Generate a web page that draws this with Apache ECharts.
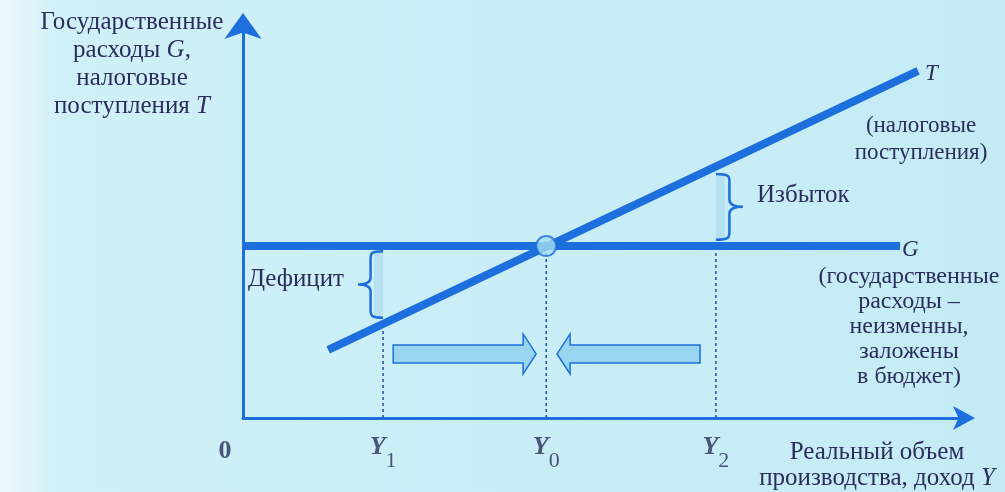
<!DOCTYPE html>
<html>
<head>
<meta charset="utf-8">
<script src="https://cdn.jsdelivr.net/npm/echarts@6/dist/echarts.min.js"></script>
<style>
html, body { margin: 0; padding: 0; }
#main { width: 1005px; height: 492px; }
</style>
</head>
<body>
<div id="main"></div>
<script>
// both axes run 0..100 (schematic units)
const gLine = [[0, 43.2], [91.0, 43.2]];          // government spending G
const tLine = [[11.8, 17.1], [93.5, 87.2]];        // tax revenue T
const incomeLevels = [0, 19.4, 42.0, 65.5];        // 0, Y1, Y0, Y2
const incomeNames = ['0', 'Y|1', 'Y|0', 'Y|2'];
const equilibrium = [[42.0, 43.2]];
const pushArrows = [[20.8, 40.6, 16.1], [63.3, 43.5, 16.1]];   // from, to, level
const deficitGap = [[19.4, 25.2, 41.9]];   // x, low, high
const surplusGap = [[65.5, 44.8, 61.3]];

const blue = '#1c6fdc';
const ink = '#2b2d5c';
const serif = '"Liberation Serif", "DejaVu Serif", serif';

function tAt(x) {
  const [a, b] = tLine;
  return a[1] + (b[1] - a[1]) * (x - a[0]) / (b[0] - a[0]);
}

// dashed drops from the curves down to the income axis
const drops = [
  [[incomeLevels[1], 0], [incomeLevels[1], tAt(incomeLevels[1])]],
  [[incomeLevels[2], 0], [incomeLevels[2], gLine[0][1]]],
  [[incomeLevels[3], 0], [incomeLevels[3], gLine[0][1]]]
];

const myChart = echarts.init(document.getElementById('main'));

function bracePath(bx, y1, y2, d, w) {
  const ym = (y1 + y2) / 2;
  const h = w * 0.5;
  return 'M' + bx + ',' + y1 +
    ' C' + (bx + d * h * 1.1) + ',' + y1 + ' ' + (bx + d * h) + ',' + (y1 + 3) + ' ' + (bx + d * h) + ',' + (y1 + 10) +
    ' L' + (bx + d * h) + ',' + (ym - 7) +
    ' Q' + (bx + d * h) + ',' + ym + ' ' + (bx + d * w) + ',' + ym +
    ' Q' + (bx + d * h) + ',' + ym + ' ' + (bx + d * h) + ',' + (ym + 7) +
    ' L' + (bx + d * h) + ',' + (y2 - 10) +
    ' C' + (bx + d * h) + ',' + (y2 - 3) + ' ' + (bx + d * h * 1.1) + ',' + y2 + ' ' + bx + ',' + y2;
}

function gapItem(params, api, dir) {
  const x = api.value(0);
  const top = api.coord([x, api.value(2)]);
  const bot = api.coord([x, api.value(1)]);
  const bw = 9;
  return {
    type: 'group',
    children: [
      {
        type: 'rect',
        shape: { x: dir < 0 ? top[0] - bw : top[0], y: top[1], width: bw, height: bot[1] - top[1] },
        style: { fill: '#b6e1f1' }
      },
      {
        type: 'path',
        shape: { pathData: bracePath(top[0], top[1], bot[1], dir, dir < 0 ? 25 : 27) },
        style: { fill: 'none', stroke: blue, lineWidth: 2.5 }
      }
    ]
  };
}

const labelItems = incomeLevels.map(function (x, i) {
  const parts = incomeNames[i].split('|');
  return {
    value: [x, 0],
    label: {
      show: true,
      position: 'bottom',
      distance: 16,
      offset: i === 0 ? [-18, 0] : [0, 0],
      formatter: parts.length > 1 ? '{m|' + parts[0] + '}{s|' + parts[1] + '}' : '{z|' + parts[0] + '}',
      rich: {
        z: { fontFamily: serif, fontSize: 26, fontWeight: 'bold', color: ink, lineHeight: 34 },
        m: { fontFamily: serif, fontSize: 26, fontStyle: 'italic', fontWeight: 'bold', color: ink, verticalAlign: 'top', lineHeight: 38 },
        s: { fontFamily: serif, fontSize: 22, color: ink, verticalAlign: 'bottom', lineHeight: 38 }
      }
    }
  };
});

const option = {
  animation: false,
  backgroundColor: new echarts.graphic.LinearGradient(0, 0, 1, 0, [
    { offset: 0, color: '#ecf9fc' },
    { offset: 0.06, color: '#d0f0f7' },
    { offset: 1, color: '#c4ebf4' }
  ]),
  grid: { left: 243, right: 40, top: 20, bottom: 74 },
  xAxis: {
    type: 'value', min: 0, max: 100,
    axisLine: {
      show: true, symbol: ['none', 'arrow'], symbolSize: [18, 22], symbolOffset: [0, 10],
      lineStyle: { color: blue, width: 3 }
    },
    axisTick: { show: false }, axisLabel: { show: false }, splitLine: { show: false }
  },
  yAxis: {
    type: 'value', min: 0, max: 100,
    axisLine: {
      show: true, symbol: ['none', 'arrow'], symbolSize: [28, 26], symbolOffset: [0, 7],
      lineStyle: { color: blue, width: 3 }
    },
    axisTick: { show: false }, axisLabel: { show: false }, splitLine: { show: false }
  },
  series: [
    {
      type: 'custom', name: 'arrows', z: 3,
      renderItem: function (params, api) {
        const s = api.coord([api.value(0), api.value(2)]);
        const e = api.coord([api.value(1), api.value(2)]);
        const d = e[0] > s[0] ? 1 : -1;
        const bh = 9, hh = 20, hl = 13, y = s[1];
        return {
          type: 'polygon',
          shape: { points: [
            [s[0], y - bh], [e[0] - d * hl, y - bh], [e[0] - d * hl, y - hh], [e[0], y],
            [e[0] - d * hl, y + hh], [e[0] - d * hl, y + bh], [s[0], y + bh]
          ] },
          style: { fill: '#97d6ee', stroke: blue, lineWidth: 1.5 }
        };
      },
      data: pushArrows
    },
    {
      type: 'custom', name: 'deficit', z: 3,
      renderItem: function (p, api) { return gapItem(p, api, -1); },
      data: deficitGap
    },
    {
      type: 'custom', name: 'surplus', z: 3,
      renderItem: function (p, api) { return gapItem(p, api, 1); },
      data: surplusGap
    }
  ].concat(drops.map(function (seg) {
    return {
      type: 'line', data: seg, symbol: 'none', z: 2,
      lineStyle: { color: '#1f4fa8', width: 1.5, type: [3, 3] }
    };
  })).concat([
    {
      type: 'line', name: 'G', data: gLine, symbol: 'none', z: 4,
      lineStyle: { color: blue, width: 8, cap: 'butt' }
    },
    {
      type: 'line', name: 'T', data: tLine, symbol: 'none', z: 4,
      lineStyle: { color: blue, width: 8, cap: 'butt' }
    },
    {
      type: 'scatter', data: equilibrium, symbolSize: 20, z: 6,
      itemStyle: { color: '#a7def1', borderColor: blue, borderWidth: 2 }
    },
    {
      type: 'scatter', data: labelItems, symbolSize: 0, z: 6
    }
  ]),
  graphic: [
    {
      type: 'text', x: 132, y: 8,
      style: {
        text: 'Государственные\nрасходы {i|G},\nналоговые\nпоступления {i|T}',
        fontFamily: serif, fontSize: 25, lineHeight: 28, fill: ink, align: 'center', verticalAlign: 'top',
        rich: {
          i: { fontFamily: serif, fontSize: 25, fontStyle: 'italic', color: ink }
        }
      }
    },
    { type: 'text', x: 925, y: 62, style: { text: 'T', fontFamily: serif, fontSize: 23, fontStyle: 'italic', fill: ink } },
    {
      type: 'text', x: 921, y: 112,
      style: { text: '(налоговые\nпоступления)', fontFamily: serif, fontSize: 23, lineHeight: 27, fill: ink, align: 'center', verticalAlign: 'top' }
    },
    { type: 'text', x: 757, y: 183, style: { text: 'Избыток', fontFamily: serif, fontSize: 25, fill: ink } },
    { type: 'text', x: 902, y: 238, style: { text: 'G', fontFamily: serif, fontSize: 23, fontStyle: 'italic', fill: ink } },
    {
      type: 'text', x: 909, y: 264,
      style: {
        text: '(государственные\nрасходы –\nнеизменны,\nзаложены\nв бюджет)',
        fontFamily: serif, fontSize: 24, lineHeight: 25, fill: ink, align: 'center', verticalAlign: 'top'
      }
    },
    { type: 'text', x: 248, y: 267, style: { text: 'Дефицит', fontFamily: serif, fontSize: 25, fill: ink } },
    {
      type: 'text', x: 877, y: 439,
      style: {
        text: 'Реальный объем\nпроизводства, доход {i|Y}', fontFamily: serif, fontSize: 25, lineHeight: 26,
        fill: ink, align: 'center', verticalAlign: 'top',
        rich: { i: { fontFamily: serif, fontSize: 25, fontStyle: 'italic', color: ink } }
      }
    }
  ]
};

myChart.setOption(option);
</script>
</body>
</html>
